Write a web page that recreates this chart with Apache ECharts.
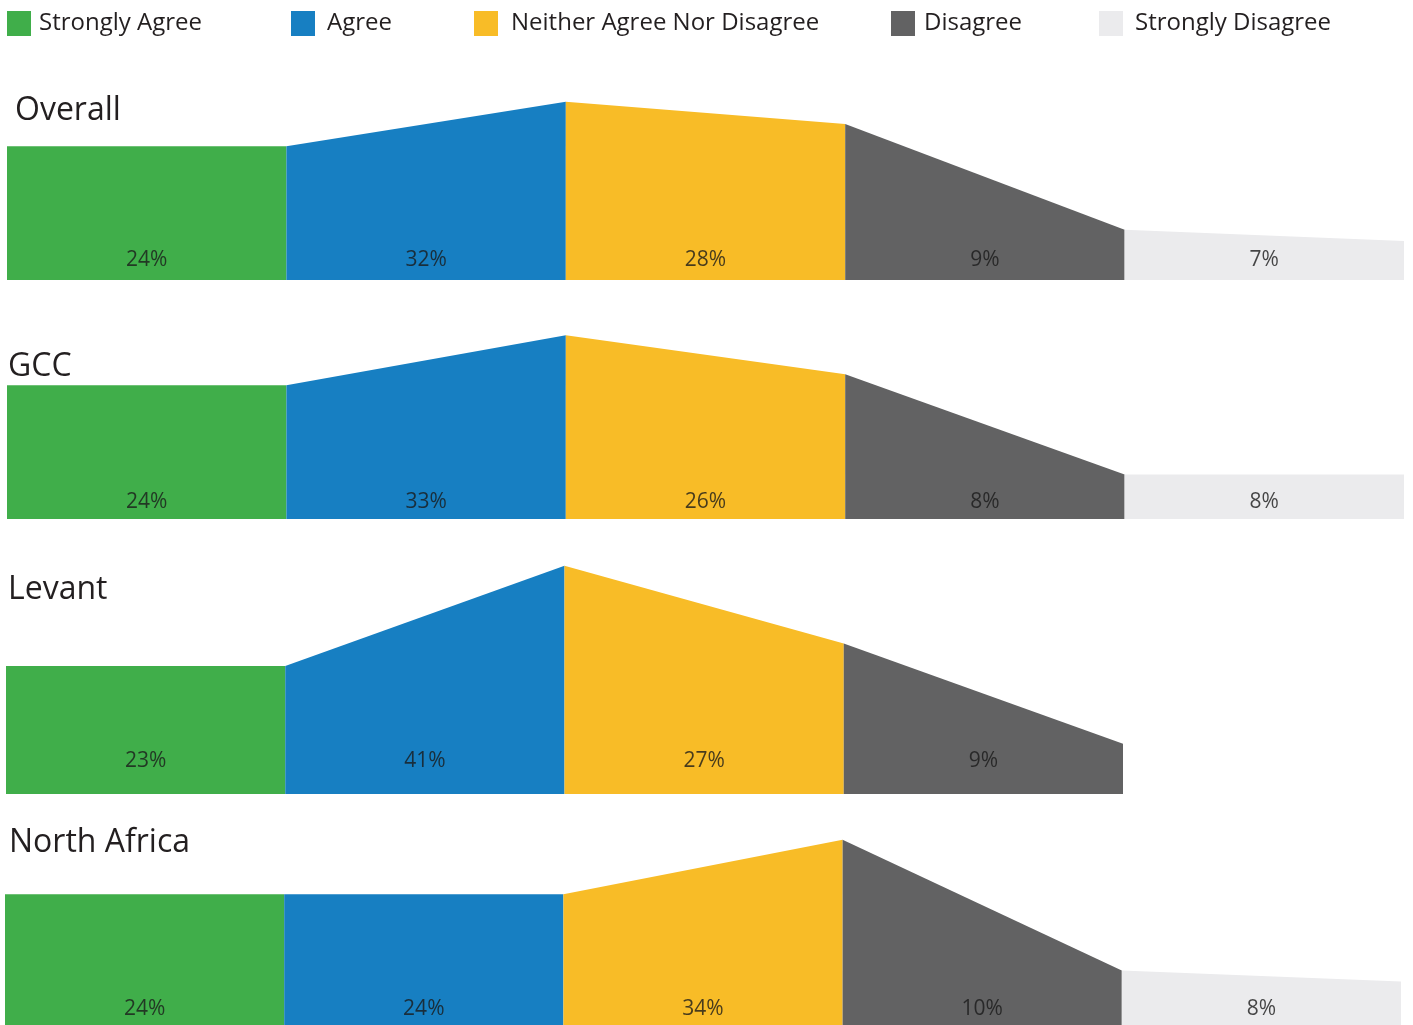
<!DOCTYPE html>
<html>
<head>
<meta charset="utf-8">
<script src="https://cdn.jsdelivr.net/npm/echarts@6/dist/echarts.min.js"></script>
<style>html,body{margin:0;padding:0;background:#fff}#c{width:1413px;height:1025px}</style>
</head>
<body>
<div id="c"></div>
<script>
const categories = ['Strongly Agree', 'Agree', 'Neither Agree Nor Disagree', 'Disagree', 'Strongly Disagree'];
const groups = ['Overall', 'GCC', 'Levant', 'North Africa'];
const overall = [24, 32, 28, 9, 7];
const gcc = [24, 33, 26, 8, 8];
const levant = [23, 41, 27, 9, null];
const northAfrica = [24, 24, 34, 10, 8];
const groupValues = [overall, gcc, levant, northAfrica];

const colors = ['#40ae4a', '#177fc2', '#f8bc27', '#626263', '#ebebed'];
const FONT = '"Open Sans", Lato, sans-serif';
const TEXT = '#231f20';
const YMAX = 50, GH = 278.5;
const layout = [
  {left: 7, right: 9, bottom: 280, title: [15, 95], labelDist: 9},
  {left: 7, right: 9, bottom: 519, title: [8, 351], labelDist: 6},
  {left: 6, right: 10.75, bottom: 794, title: [8, 574], labelDist: 22},
  {left: 5, right: 12, bottom: 1031, title: [9, 827], labelDist: 5}
];
const legendX = [7, 291, 474, 891, 1099];
const legendTextGap = [3, 7, 8, 4, 7];

const grid = [], xAxis = [], yAxis = [], series = [], title = [];
groups.forEach((g, gi) => {
  const L = layout[gi];
  grid.push({left: L.left, right: L.right, top: L.bottom - GH, height: GH, containLabel: false});
  xAxis.push({type: 'value', gridIndex: gi, min: 0, max: 5, show: false});
  yAxis.push({type: 'value', gridIndex: gi, min: 0, max: YMAX, show: false});
  title.push({text: g, left: L.title[0], top: L.title[1], padding: 0,
    textStyle: {fontFamily: FONT, fontSize: 32, fontWeight: 500, color: TEXT}});
  const vals = groupValues[gi];
  const labelData = [];
  vals.forEach((v, c) => {
    if (v == null) return;
    const prev = c === 0 ? v : vals[c - 1];
    series.push({
      type: 'line', name: categories[c], xAxisIndex: gi, yAxisIndex: gi,
      data: [[c, prev], [c + 1, v]], symbol: 'none', silent: true,
      lineStyle: {width: 0}, color: colors[c],
      areaStyle: {color: colors[c], opacity: 1}
    });
    labelData.push([c + 0.5, 0, v]);
  });
  series.push({
    type: 'scatter', xAxisIndex: gi, yAxisIndex: gi, symbolSize: 0, silent: true,
    data: labelData, z: 10,
    label: {show: true, position: 'top', distance: L.labelDist,
      formatter: p => p.value[2] + '%',
      fontFamily: FONT, fontSize: 21, fontWeight: 500, color: '#1a1a1a'}
  });
});

const legend = categories.map((name, i) => ({
  data: [name], left: legendX[i], top: 11, padding: 0,
  icon: 'rect', itemWidth: 24, itemHeight: 25, selectedMode: false,
  textStyle: {fontFamily: FONT, fontSize: 24, color: TEXT, padding: [2, 0, 0, legendTextGap[i]]}
}));

const chart = echarts.init(document.getElementById('c'), null, {renderer: 'canvas'});
chart.setOption({animation: false, backgroundColor: '#fff', title, legend, grid, xAxis, yAxis, series});
</script>
</body>
</html>
